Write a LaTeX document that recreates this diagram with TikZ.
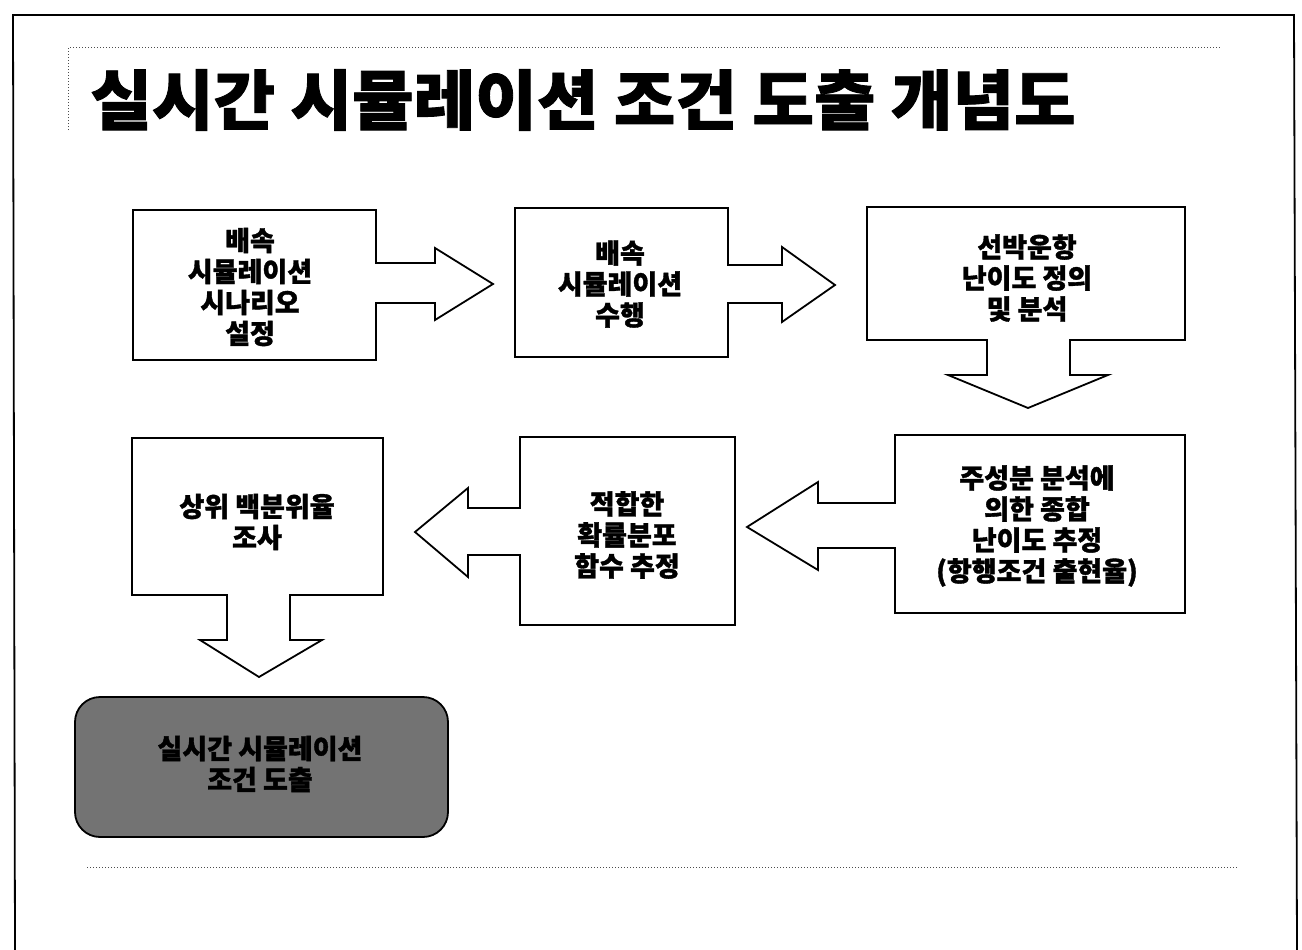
\documentclass[tikz,border=0pt]{standalone}
\usepackage{fontspec}
\usepackage{graphicx}
\newfontfamily\cjk{Noto Sans CJK KR}[BoldFeatures={FakeBold=1.3}]
\tikzset{
  x=1pt, y=-1pt,
  flowshape/.style={draw=black, line width=1.8pt, line join=miter, fill=white},
  boxtext/.style={font=\cjk\bfseries\fontsize{27}{31}\selectfont, align=center, text=black, inner sep=0pt},
  frameline/.style={draw=black, line width=1.8pt},
  dotline/.style={draw=black!70, line width=1pt, dotted}
}
\begin{document}
\begin{tikzpicture}
\useasboundingbox (0,0) rectangle (1302,950);
\fill[white] (0,0) rectangle (1302,950);
% outer frame
\draw[frameline] (15,950) -- (13,15) -- (1294,15) -- (1297,950);
% title frame and separator
\draw[dotline] (68,130) -- (68,48) -- (1221,48);
\draw[dotline] (87,867) -- (1237,867);
% title
\node[inner sep=0pt] (title) at (583,100) {\scalebox{1.03}[1]{\cjk\bfseries\fontsize{65}{70}\selectfont 실시간 시뮬레이션 조건 도출 개념도}};

% box 1 with right arrow
\draw[flowshape] (133,210) -- (376,210) -- (376,263) -- (435,263) -- (435,248) -- (493,284) -- (435,320) -- (435,303) -- (376,303) -- (376,360) -- (133,360) -- cycle;
\node[boxtext] (t1) at (250,287) {배속\\시뮬레이션\\시나리오\\설정};

% box 2 with right arrow
\draw[flowshape] (515,208) -- (728,208) -- (728,265) -- (782,265) -- (782,247) -- (835,285) -- (782,322) -- (782,303) -- (728,303) -- (728,357) -- (515,357) -- cycle;
\node[boxtext] (t2) at (620,284) {배속\\시뮬레이션\\수행};

% box 3 with down arrow
\draw[flowshape] (867,207) -- (1185,207) -- (1185,340) -- (1070,340) -- (1070,375) -- (1108,375) -- (1028,408) -- (948,375) -- (987,375) -- (987,340) -- (867,340) -- cycle;
\node[boxtext] (t3) at (1027,278) {선박운항\\난이도 정의\\및 분석};

% box 4 with left arrow
\draw[flowshape] (895,435) -- (1185,435) -- (1185,613) -- (895,613) -- (895,548) -- (818,548) -- (818,570) -- (747,527) -- (818,482) -- (818,503) -- (895,503) -- cycle;
\node[boxtext] (t4) at (1037,526) {주성분 분석에\\의한 종합\\난이도 추정\\(항행조건 출현율)};

% box 5 with left arrow
\draw[flowshape] (520,437) -- (735,437) -- (735,625) -- (520,625) -- (520,555) -- (468,555) -- (468,577) -- (415,532) -- (468,488) -- (468,508) -- (520,508) -- cycle;
\node[boxtext] (t5) at (627,535) {적합한\\확률분포\\함수 추정};

% box 6 with down arrow
\draw[flowshape] (132,438) -- (383,438) -- (383,595) -- (290,595) -- (290,640) -- (322,640) -- (259,677) -- (200,640) -- (227,640) -- (227,595) -- (132,595) -- cycle;
\node[boxtext] (t6) at (257,522) {상위 백분위율\\조사};

% final rounded box
\draw[draw=black, line width=1.8pt, fill=black!55, rounded corners=25pt] (75,697) rectangle (448,837);
\node[boxtext] (t7) at (260,764) {실시간 시뮬레이션\\조건 도출};
\end{tikzpicture}
\end{document}
